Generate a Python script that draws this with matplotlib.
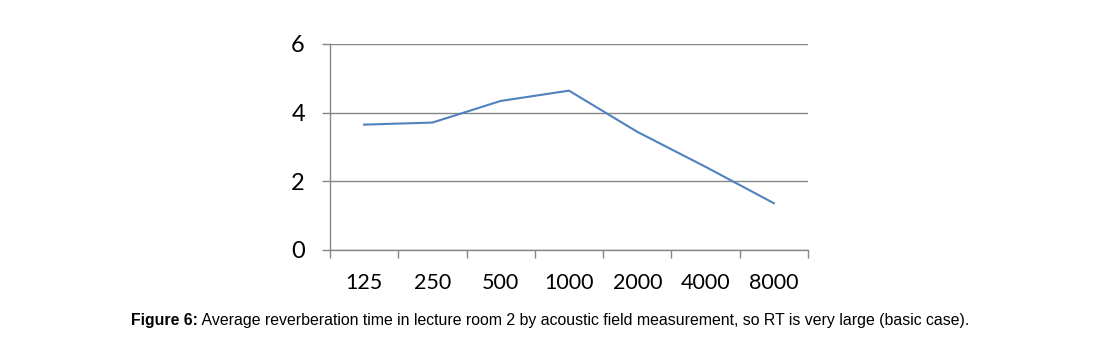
import matplotlib.pyplot as plt
import numpy as np

freqs = ['125', '250', '500', '1000', '2000', '4000', '8000']
rt = [3.65, 3.71, 4.34, 4.64, 3.44, 2.42, 1.36]
yticks = [0, 2, 4, 6]

tick_font = ['Lato', 'DejaVu Sans']
cap_font = ['Liberation Sans Narrow', 'Liberation Sans', 'DejaVu Sans']

fig = plt.figure(figsize=(10.94, 3.49), dpi=100)
ax = fig.add_axes([0.3016, 0.284, 0.4370, 0.590])

x = np.arange(len(freqs))
ax.plot(x, rt, color='#4F81BD', lw=1.5, solid_joinstyle='round')

ax.set_xlim(-0.5, len(freqs) - 0.5)
ax.set_ylim(0, 6)
ax.set_yticks(yticks)
ax.set_yticklabels([str(v) for v in yticks], fontsize=17, family=tick_font)
ax.set_xticks(x)
ax.set_xticklabels(freqs, fontsize=15.5, family=tick_font)
ax.set_xticks(np.arange(len(freqs) + 1) - 0.5, minor=True)

ax.tick_params(axis='x', which='major', length=0, pad=17)
ax.tick_params(axis='x', which='minor', length=6, color='#868686', width=1)
ax.tick_params(axis='y', length=6, color='#868686', width=1, pad=12)
ax.yaxis.grid(True, color='#868686', lw=1)
ax.set_axisbelow(True)

for s in ['top', 'right']:
    ax.spines[s].set_visible(False)
for s in ['left', 'bottom']:
    ax.spines[s].set_color('#868686')
    ax.spines[s].set_linewidth(1)

t1 = fig.text(0.1195, 0.083, 'Figure 6:', fontsize=11.4, fontweight='bold',
              family=cap_font, ha='left', va='center')
fig.canvas.draw()
bb = t1.get_window_extent()
fig.text(bb.x1 / fig.bbox.width, 0.083,
         ' Average reverberation time in lecture room 2 by acoustic field measurement, so RT is very large (basic case).',
         fontsize=11.4, family=cap_font, ha='left', va='center')

fig.savefig('out.png', dpi=100)
